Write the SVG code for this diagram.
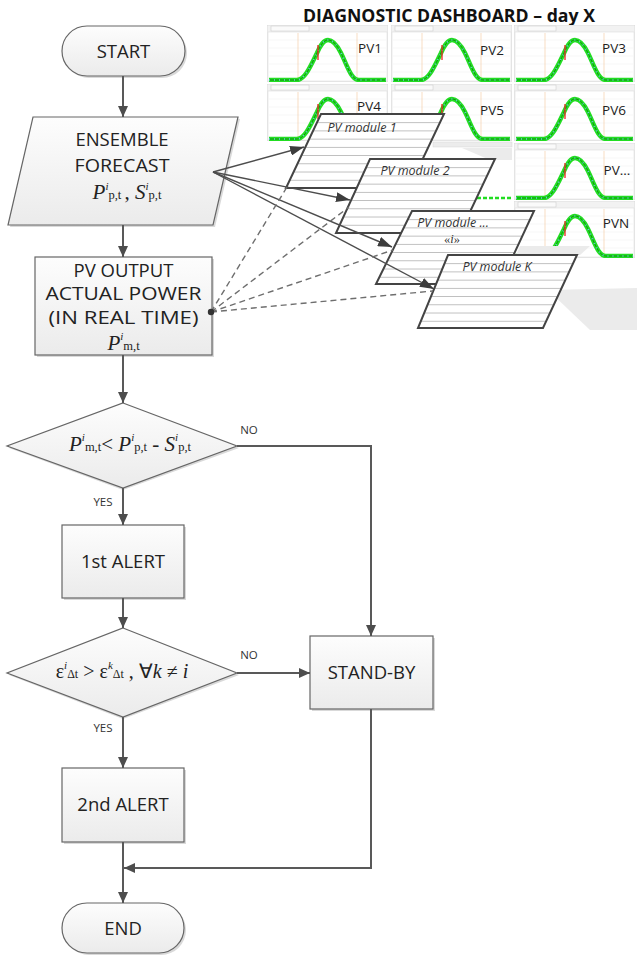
<svg xmlns="http://www.w3.org/2000/svg" width="637" height="956" viewBox="0 0 637 956">
<defs>
<style>
.node{fill:url(#ng);stroke:#666;stroke-width:1.2}
.sh{fill:#d9d9d9;stroke:none}
.lbl{font-family:"Open Sans","Liberation Sans",sans-serif;font-size:18.5px;fill:#222;text-anchor:middle}
.yn{font-family:"Open Sans","Liberation Sans",sans-serif;font-size:11.5px;fill:#333;text-anchor:middle}
.math{font-family:"Liberation Serif","Times New Roman",serif;fill:#222}
.con{fill:none;stroke:#595959;stroke-width:2}
.arw{fill:none;stroke:#4d4d4d;stroke-width:1.4}
.dash{fill:none;stroke:#6e6e6e;stroke-width:1.4;stroke-dasharray:6 4}
.mod{fill:url(#stripes);stroke:#444;stroke-width:2}
.mlbl{font-family:"Open Sans","Liberation Sans",sans-serif;font-size:12.5px;font-style:italic;fill:#333;text-anchor:middle}
.pv{font-family:"Open Sans","Liberation Sans",sans-serif;font-size:13.5px;fill:#222;text-anchor:middle}
.shade{fill:#ebebeb;stroke:none}
</style>
<linearGradient id="ng" x1="0" y1="0" x2="0" y2="1">
<stop offset="0" stop-color="#fdfdfd"/>
<stop offset="1" stop-color="#ebebeb"/>
</linearGradient>
<pattern id="stripes" patternUnits="userSpaceOnUse" width="200" height="8.222">
<rect width="200" height="8.222" fill="#fff"/>
<line x1="0" y1="0.4" x2="200" y2="0.4" stroke="#a8a8a8" stroke-width="0.8"/>
</pattern>
<marker id="ah" markerUnits="userSpaceOnUse" markerWidth="11" markerHeight="10" refX="11" refY="5" orient="auto">
<path d="M0,0 L11,5 L0,10 z" fill="#4d4d4d"/>
</marker>
<marker id="ah2" markerUnits="userSpaceOnUse" markerWidth="14" markerHeight="10" refX="14" refY="5" orient="auto">
<path d="M0,0 L14,5 L0,10 z" fill="#3d3d3d"/>
</marker>
<symbol id="frame" viewBox="0 0 121 57">
<rect x="0" y="0" width="121" height="57" fill="#f2f2f2" stroke="#d0d0d0" stroke-width="0.6"/>
<rect x="4" y="1" width="38" height="5" fill="#fafafa" stroke="#c8c8c8" stroke-width="0.5"/>
<rect x="1" y="7" width="119" height="49" fill="#fff" stroke="#d8d8d8" stroke-width="0.5"/>
<g stroke="#ededed" stroke-width="0.5">
<line x1="2" y1="15" x2="119" y2="15"/><line x1="2" y1="23" x2="119" y2="23"/><line x1="2" y1="31" x2="119" y2="31"/><line x1="2" y1="39" x2="119" y2="39"/><line x1="2" y1="47" x2="119" y2="47"/>
</g>
<g stroke="#f3c89b" stroke-width="0.6">
<line x1="31" y1="8" x2="31" y2="55"/><line x1="90" y1="8" x2="90" y2="55"/>
</g>
</symbol>
<symbol id="panel" viewBox="0 0 121 57">
<use href="#frame" width="121" height="57"/>
<path d="M2,55 H30 C38,55 44,40 50,28 C54,19 57,15 61,15 C66,15 70,20 74,28 C80,40 84,55 92,55 H119" fill="none" stroke="#22dd22" stroke-width="4.5"/>
<path d="M2,55 H30 C38,55 44,40 50,28 C54,19 57,15 61,15 C66,15 70,20 74,28 C80,40 84,55 92,55 H119" fill="none" stroke="#0c8c0c" stroke-width="0.9"/>
<path d="M2,55 H30 C38,55 44,40 50,28 C54,19 57,15 61,15 C66,15 70,20 74,28 C80,40 84,55 92,55 H119" fill="none" stroke="#66ccdd" stroke-width="1.6" stroke-dasharray="1 4"/>
<line x1="51" y1="20" x2="51" y2="35" stroke="#ee2222" stroke-width="1.3"/>
</symbol>
</defs>
<rect width="637" height="956" fill="#fff"/>

<g id="dashboard">
<text x="449" y="22" font-family="'Open Sans','Liberation Sans',sans-serif" font-size="18" font-weight="bold" fill="#111" text-anchor="middle" textLength="292" lengthAdjust="spacingAndGlyphs">DIAGNOSTIC DASHBOARD – day X</text>
<use href="#panel" x="267" y="25" width="121" height="57"/>
<use href="#panel" x="391" y="25" width="121" height="57"/>
<use href="#panel" x="514" y="25" width="121" height="57"/>
<use href="#panel" x="267" y="84" width="121" height="57"/>
<use href="#panel" x="391" y="84" width="121" height="57"/>
<use href="#panel" x="514" y="84" width="121" height="57"/>
<rect x="433" y="142" width="79" height="5" fill="#ececec" stroke="#d6d6d6" stroke-width="0.5"/>
<path d="M465,198 H511" stroke="#22dd22" stroke-width="2.5" stroke-dasharray="4 2"/>
<polygon class="shade" points="462,148 512,148 512,160 490,160"/>
<use href="#panel" x="514" y="143" width="121" height="57"/>
<use href="#panel" x="514" y="201" width="121" height="57"/>
<polygon class="shade" points="520,246 590,246 580,255 516,255"/>
<polygon class="shade" points="548,290 637,288 637,330 590,330"/>
<text class="pv" x="370" y="53">PV1</text>
<text class="pv" x="492" y="55">PV2</text>
<text class="pv" x="614" y="53">PV3</text>
<text class="pv" x="369" y="111">PV4</text>
<text class="pv" x="492" y="115">PV5</text>
<text class="pv" x="614" y="115">PV6</text>
<text class="pv" x="617" y="175">PV...</text>
<text class="pv" x="616" y="228">PVN</text>
</g>

<g id="module1" transform="translate(321,114)">
<polygon class="mod" points="0,0 123,0 88,74 -35,74"/>
<text class="mlbl" x="41" y="18">PV module 1</text>
</g>
<g id="module2" transform="translate(370,159)">
<polygon class="mod" points="0,0 125,0 90,74 -34,74"/>
<text class="mlbl" x="45" y="16">PV module 2</text>
</g>
<g id="module3" transform="translate(412,211)">
<polygon class="mod" points="0,0 122,0 88,73 -36,73"/>
<text class="mlbl" x="41" y="16">PV module ...</text>
<text x="40" y="32" font-family="'Liberation Serif',serif" font-size="12.5" fill="#333" text-anchor="middle">«<tspan font-style="italic">i</tspan>»</text>
</g>
<g id="moduleK" transform="translate(448,255)">
<polygon class="mod" points="0,0 129,0 95,73 -30,73"/>
<text class="mlbl" x="49" y="16">PV module K</text>
</g>

<g id="start">
<rect class="sh" x="64" y="28" width="123" height="50" rx="25"/>
<rect class="node" x="62" y="26" width="123" height="50" rx="25"/>
<text class="lbl" x="123.5" y="58">START</text>
</g>

<g id="forecast">
<polygon class="sh" points="35,119 240,119 215,227 10,227"/>
<polygon class="node" points="33,117 238,117 213,225 8,225"/>
<text class="lbl" x="122" y="146">ENSEMBLE</text>
<text class="lbl" x="122" y="172" textLength="95" lengthAdjust="spacingAndGlyphs">FORECAST</text>
<text class="math" x="127" y="199" text-anchor="middle" font-size="21"><tspan font-style="italic">P</tspan><tspan font-size="11" font-style="italic" dy="-9">i</tspan><tspan font-size="12.5" dy="9">p,t </tspan>, <tspan font-style="italic">S</tspan><tspan font-size="11" font-style="italic" dy="-9">i</tspan><tspan font-size="12.5" dy="9">p,t</tspan></text>
</g>

<g id="pvoutput">
<rect class="sh" x="37" y="259" width="177" height="98"/>
<rect class="node" x="35" y="257" width="177" height="98"/>
<text class="lbl" x="123.5" y="277">PV OUTPUT</text>
<text class="lbl" x="123.5" y="300" textLength="156" lengthAdjust="spacingAndGlyphs">ACTUAL POWER</text>
<text class="lbl" x="123.5" y="324" textLength="150" lengthAdjust="spacingAndGlyphs">(IN REAL TIME)</text>
<text class="math" x="123.5" y="350" text-anchor="middle" font-size="21"><tspan font-style="italic">P</tspan><tspan font-size="11" font-style="italic" dy="-10">i</tspan><tspan font-size="12.5" dy="10">m,t</tspan></text>
</g>

<g id="decision1">
<polygon class="sh" points="123,405 239,448 123,490 9,448"/>
<polygon class="node" points="123,403 237,446 123,488 7,446"/>
<text class="math" x="130" y="451" text-anchor="middle" font-size="21"><tspan font-style="italic">P</tspan><tspan font-size="11" font-style="italic" dy="-10">i</tspan><tspan font-size="12.5" dy="10">m,t</tspan>&lt; <tspan font-style="italic">P</tspan><tspan font-size="11" font-style="italic" dy="-10">i</tspan><tspan font-size="12.5" dy="10">p,t</tspan> - <tspan font-style="italic">S</tspan><tspan font-size="11" font-style="italic" dy="-10">i</tspan><tspan font-size="12.5" dy="10">p,t</tspan></text>
</g>

<g id="alert1">
<rect class="sh" x="64" y="527" width="122" height="73"/>
<rect class="node" x="62" y="525" width="122" height="73"/>
<text class="lbl" x="123" y="568">1st ALERT</text>
</g>

<g id="decision2">
<polygon class="sh" points="123,630 239,675 123,719 9,675"/>
<polygon class="node" points="123,628 237,673 123,717 7,673"/>
<text class="math" x="122" y="678" text-anchor="middle" font-size="20">ε<tspan font-size="11" font-style="italic" dy="-9">i</tspan><tspan font-size="12" dy="9">Δt</tspan> &gt; ε<tspan font-size="11" font-style="italic" dy="-9">k</tspan><tspan font-size="12" dy="9">Δt</tspan> , ∀<tspan font-style="italic">k</tspan> ≠ <tspan font-style="italic">i</tspan></text>
</g>

<g id="standby">
<rect class="sh" x="312" y="638" width="123" height="73"/>
<rect class="node" x="310" y="636" width="123" height="73"/>
<text class="lbl" x="371.5" y="679">STAND-BY</text>
</g>

<g id="alert2">
<rect class="sh" x="64" y="770" width="122" height="74"/>
<rect class="node" x="62" y="768" width="122" height="74"/>
<text class="lbl" x="123" y="811">2nd ALERT</text>
</g>

<g id="end">
<rect class="sh" x="64" y="905" width="122" height="50" rx="25"/>
<rect class="node" x="62" y="903" width="122" height="50" rx="25"/>
<text class="lbl" x="123" y="935">END</text>
</g>

<g id="connectors">
<path class="con" d="M123,76 V117" marker-end="url(#ah)"/>
<path class="con" d="M123,225 V257" marker-end="url(#ah)"/>
<path class="con" d="M123,355 V403" marker-end="url(#ah)"/>
<path class="con" d="M237,446 H371 V636" marker-end="url(#ah)"/>
<path class="con" d="M123,488 V525" marker-end="url(#ah)"/>
<path class="con" d="M123,598 V628" marker-end="url(#ah)"/>
<path class="con" d="M237,673 H310" marker-end="url(#ah)"/>
<path class="con" d="M123,717 V768" marker-end="url(#ah)"/>
<path class="con" d="M123,842 V903" marker-end="url(#ah)"/>
<path class="con" d="M371,709 V868 H124" marker-end="url(#ah)"/>
<path class="arw" d="M213,172 L304,147" marker-end="url(#ah2)"/>
<path class="arw" d="M213,172 L350,200" marker-end="url(#ah2)"/>
<path class="arw" d="M213,172 L392,247" marker-end="url(#ah2)"/>
<path class="arw" d="M213,172 L434,289" marker-end="url(#ah2)"/>
<path class="dash" d="M211,312 L287,187"/>
<path class="dash" d="M211,312 L349,207"/>
<path class="dash" d="M211,312 L393,250"/>
<path class="dash" d="M211,312 L433,291"/>
<circle cx="211" cy="312" r="3.2" fill="#333"/>
<text class="yn" x="249" y="434">NO</text>
<text class="yn" x="103" y="506">YES</text>
<text class="yn" x="249" y="659">NO</text>
<text class="yn" x="103" y="732">YES</text>
</g>
</svg>
